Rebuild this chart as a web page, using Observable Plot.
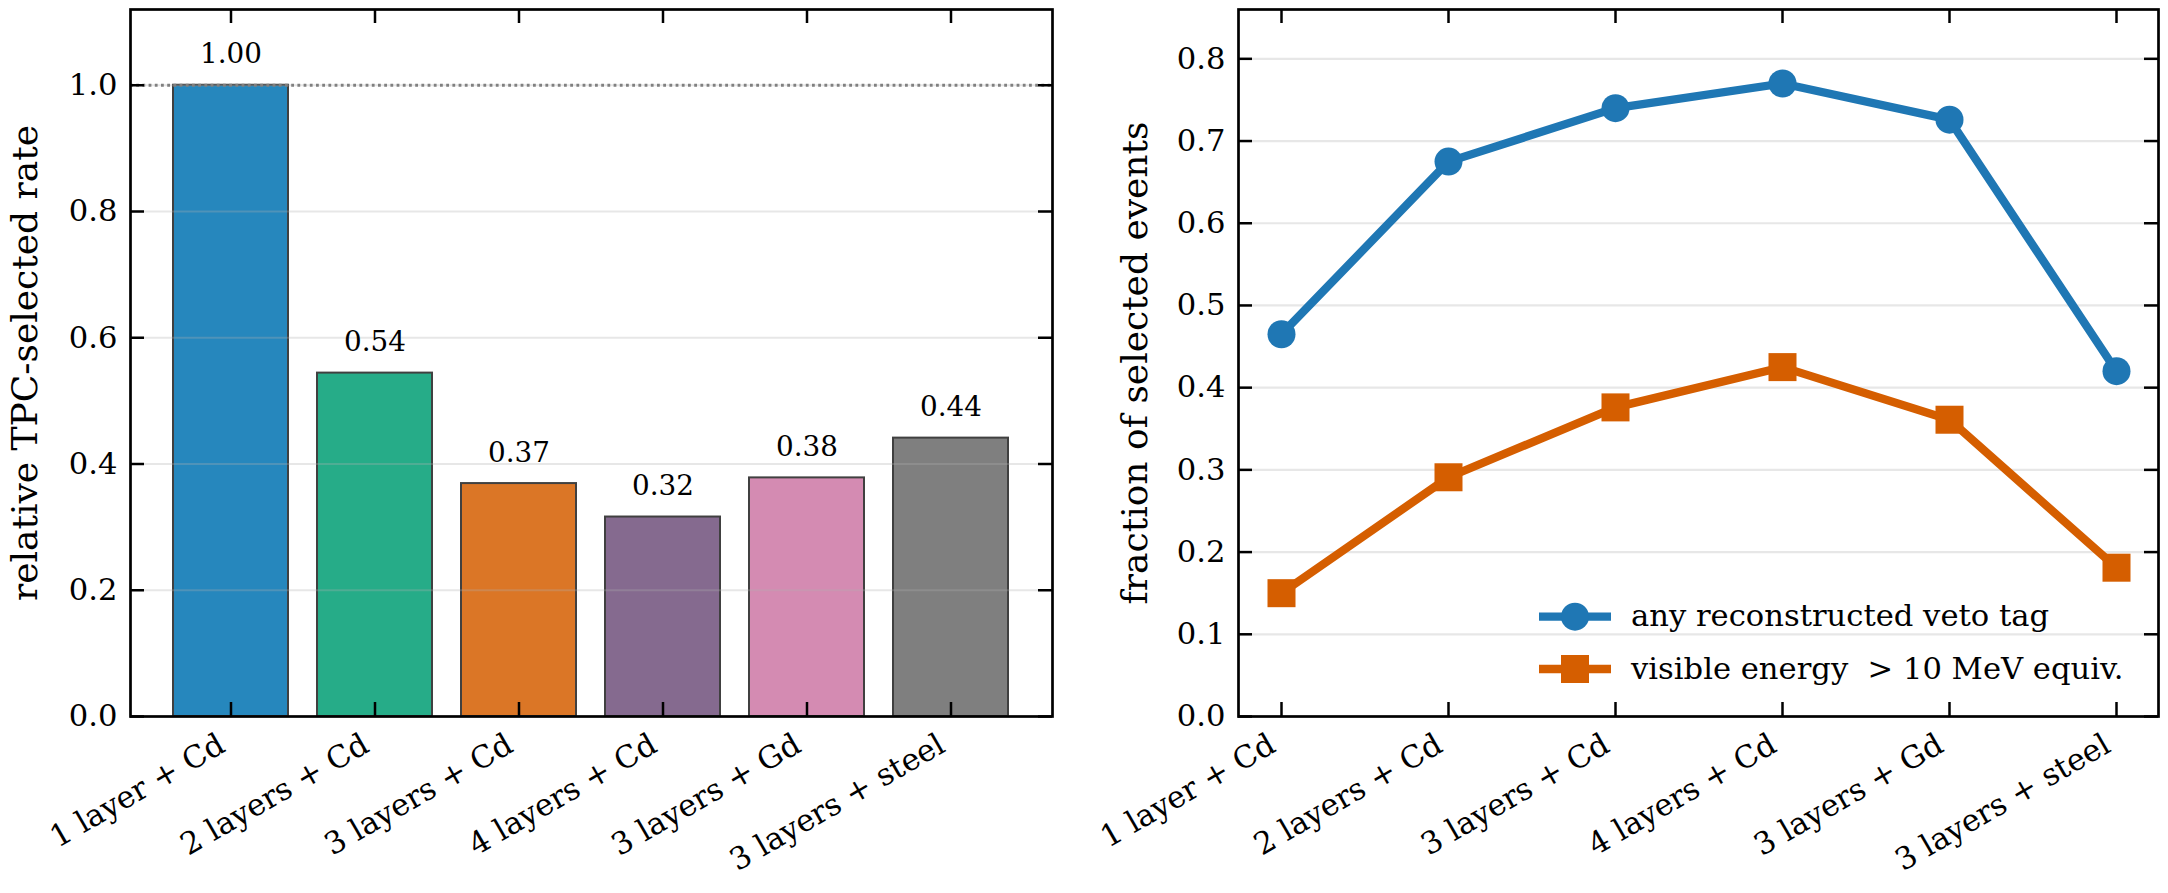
<!DOCTYPE html>
<html><head><meta charset="utf-8">
<script src="https://cdn.jsdelivr.net/npm/d3@7"></script>
<script src="https://cdn.jsdelivr.net/npm/@observablehq/plot@0.6"></script>
<style>
html,body{margin:0;padding:0;background:#fff;}
#wrap{position:relative;width:2168px;height:893px;display:flex;overflow:hidden;}
#wrap svg{display:block;}
#legend{position:absolute;left:0;top:0;}
</style></head><body><div id="wrap"></div>
<script>
// ---- data ----
const configs = ["1 layer + Cd", "2 layers + Cd", "3 layers + Cd", "4 layers + Cd", "3 layers + Gd", "3 layers + steel"];
const relRate = [1.00, 0.544, 0.369, 0.316, 0.378, 0.441];
const barColors = ["#2687bd", "#26ac88", "#db7626", "#856a8f", "#d48bb2", "#7f7f7f"];
const anyVeto = [0.465, 0.675, 0.740, 0.770, 0.726, 0.420];
const visEnergy = [0.150, 0.291, 0.376, 0.425, 0.361, 0.181];
const seriesNames = ["any reconstructed veto tag", "visible energy  > 10 MeV equiv."];
const seriesColors = ["#1f77b4", "#d55e00"];
const seriesSymbols = ["circle", "square"];
const leftTicks = [0.0, 0.2, 0.4, 0.6, 0.8, 1.0];
const rightTicks = [0.0, 0.1, 0.2, 0.3, 0.4, 0.5, 0.6, 0.7, 0.8];
const leftYLabel = "relative TPC-selected rate";
const rightYLabel = "fraction of selected events";

// ---- layout ----
const FONT = "DejaVu Serif";
const W = 1084, H = 893, MT = 9, MB = 177;
const PH = H - MT - MB;
const TICK = 14;
const gridStyle = {stroke: "#b0b0b0", strokeOpacity: 0.3, strokeWidth: 2.2};
const barData = configs.map((c, i) => ({config: c, rate: relRate[i]}));
const lineData = [anyVeto, visEnergy].map((vals, s) => configs.map((c, i) => ({config: c, value: vals[i], series: seriesNames[s]})));
const fmt2 = d3.format(".2f"), fmt1 = d3.format(".1f");

function tickMarks(cats, ticks, plotW) {
  return [
    Plot.ruleX(cats, {x: d => d, insetTop: PH - TICK, stroke: "black", strokeWidth: 2.5}),
    Plot.ruleX(cats, {x: d => d, insetBottom: PH - TICK, stroke: "black", strokeWidth: 2.5}),
    Plot.ruleY(ticks, {y: d => d, insetRight: plotW - TICK, stroke: "black", strokeWidth: 2.5}),
    Plot.ruleY(ticks, {y: d => d, insetLeft: plotW - TICK, stroke: "black", strokeWidth: 2.5})
  ];
}
function xLabels(cats) {
  return Plot.text(cats, {x: d => d, frameAnchor: "bottom", text: d => d, rotate: -30, textAnchor: "end",
    lineAnchor: "bottom", dx: -4, dy: 34, fontSize: 30.6, fill: "black"});
}

// ---- left panel ----
const mlL = 130, mrL = 32;
const left = Plot.plot({
  width: W, height: H, marginLeft: mlL, marginRight: mrL, marginTop: MT, marginBottom: MB,
  style: {fontFamily: FONT, fontSize: "30.6px", color: "black", background: "white"},
  x: {type: "band", domain: configs, paddingInner: 0.2, paddingOuter: 0.29, axis: null},
  y: {domain: [0, 1.12], axis: null},
  color: {domain: configs, range: barColors},
  marks: [
    Plot.barY(barData, {x: "config", y: "rate", fill: "config", stroke: "#404040", strokeWidth: 2, inset: 0}),
    Plot.ruleY(leftTicks, {y: d => d, ...gridStyle}),
    Plot.ruleY([relRate[0]], {stroke: "#808080", strokeWidth: 2.8, strokeDasharray: "2.8,3.4"}),
    Plot.text(barData, {x: "config", y: "rate", text: d => fmt2(d.rate), dy: -22, lineAnchor: "bottom", fontSize: 27.8, fill: "black"}),
    Plot.axisY(leftTicks, {tickSize: 0, tickPadding: 13, tickFormat: fmt1, fontSize: 30.6, label: null}),
    Plot.text([leftYLabel], {frameAnchor: "left", text: d => d, rotate: -90, textAnchor: "middle", lineAnchor: "bottom", dx: -94, fontSize: 36, fill: "black"}),
    xLabels(configs),
    ...tickMarks(configs, leftTicks, W - mlL - mrL),
    Plot.frame({stroke: "black", strokeWidth: 2.7})
  ]
});

// ---- right panel ----
const mlR = 154, mrR = 10;
const right = Plot.plot({
  width: W, height: H, marginLeft: mlR, marginRight: mrR, marginTop: MT, marginBottom: MB,
  style: {fontFamily: FONT, fontSize: "30.6px", color: "black", background: "white"},
  x: {type: "point", domain: configs, padding: 0.25, axis: null},
  y: {domain: [0, 0.86], axis: null},
  color: {domain: seriesNames, range: seriesColors},
  marks: [
    Plot.ruleY(rightTicks, {y: d => d, ...gridStyle}),
    ...lineData.map((ld, s) => Plot.line(ld, {x: "config", y: "value", stroke: "series", strokeWidth: 8.3})),
    ...lineData.map((ld, s) => Plot.dot(ld, {x: "config", y: "value", fill: "series", symbol: seriesSymbols[s], r: s === 0 ? 14 : 15.8, stroke: "none"})),
    Plot.axisY(rightTicks, {tickSize: 0, tickPadding: 13, tickFormat: fmt1, fontSize: 30.6, label: null}),
    Plot.text([rightYLabel], {frameAnchor: "left", text: d => d, rotate: -90, textAnchor: "middle", lineAnchor: "bottom", dx: -92, fontSize: 36, fill: "black"}),
    xLabels(configs),
    ...tickMarks(configs, rightTicks, W - mlR - mrR),
    Plot.frame({stroke: "black", strokeWidth: 2.7})
  ]
});

const wrap = document.getElementById("wrap");
wrap.appendChild(left);
wrap.appendChild(right);

// ---- legend (inside right panel, lower right) ----
const lg = d3.select(wrap).append("svg").attr("id", "legend").attr("width", 2168).attr("height", 893)
  .style("pointer-events", "none");
const lgX = 1539, lgY0 = 616.7, lgDY = 52.3;
seriesNames.forEach((name, s) => {
  const cy = lgY0 + s * lgDY;
  const g = lg.append("g");
  g.append("line").attr("x1", lgX).attr("x2", lgX + 72).attr("y1", cy).attr("y2", cy)
    .attr("stroke", seriesColors[s]).attr("stroke-width", 8.3);
  if (seriesSymbols[s] === "circle") {
    g.append("circle").attr("cx", lgX + 36).attr("cy", cy).attr("r", 14).attr("fill", seriesColors[s]);
  } else {
    g.append("rect").attr("x", lgX + 36 - 14).attr("y", cy - 14).attr("width", 28).attr("height", 28).attr("fill", seriesColors[s]);
  }
  g.append("text").attr("x", lgX + 92).attr("y", cy).attr("dy", "0.32em")
    .attr("font-family", FONT).attr("font-size", 30.6).attr("fill", "black")
    .style("white-space", "pre").attr("xml:space", "preserve").text(name);
});
</script></body></html>
